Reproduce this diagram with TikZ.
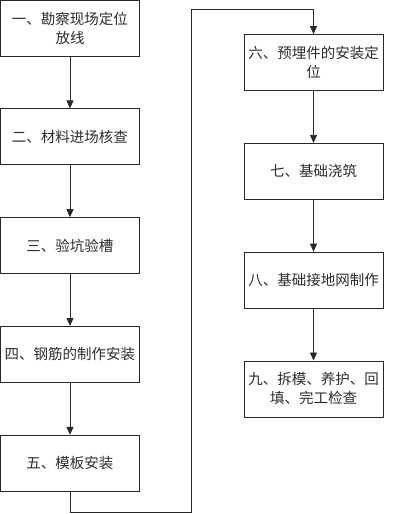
\documentclass[tikz,border=0pt]{standalone}
\usepackage{fontspec}
\usepackage{tikz}
\usetikzlibrary{arrows.meta,positioning}
\newfontfamily\cjk{Noto Sans CJK SC}
\definecolor{linegray}{RGB}{40, 40, 40}
\definecolor{textgray}{RGB}{45, 45, 45}

\begin{document}
\begin{tikzpicture}[
    x=1pt, y=-1pt,
    >={Triangle[length=8pt,width=7pt]},
    node distance=52pt,
    stepbox/.style={draw=linegray, line width=0.8pt, fill=white, align=center, text=textgray,
        font=\cjk\fontsize{14.5pt}{19pt}\selectfont, minimum height=56pt, minimum width=139pt,
        inner sep=2pt, text width=133pt},
    arrow/.style={->, line width=0.8pt, linegray}
]
    \useasboundingbox (0,0) rectangle (414,514);

    % Left column
    \node[stepbox] (kancha) at (70,28) {一、勘察现场定位\\放线};
    \node[stepbox, below=of kancha] (cailiao) {二、材料进场核查};
    \node[stepbox, below=of cailiao] (yankeng) {三、验坑验槽};
    \node[stepbox, below=of yankeng] (gangjin) {四、钢筋的制作安装};
    \node[stepbox, below=of gangjin] (muban) {五、模板安装};

    % Right column
    \node[stepbox] (maijian) at (313.5,62.5) {六、预埋件的安装定\\位};
    \node[stepbox, below=of maijian] (jiaozhu) {七、基础浇筑};
    \node[stepbox, below=of jiaozhu] (jiedi) {八、基础接地网制作};
    \node[stepbox, below=of jiedi] (chaimo) {九、拆模、养护、回\\填、完工检查};

    % Direct Path
    \draw[arrow] (kancha) -- (cailiao);
    \draw[arrow] (cailiao) -- (yankeng);
    \draw[arrow] (yankeng) -- (gangjin);
    \draw[arrow] (gangjin) -- (muban);
    \draw[arrow] (maijian) -- (jiaozhu);
    \draw[arrow] (jiaozhu) -- (jiedi);
    \draw[arrow] (jiedi) -- (chaimo);

    % Return path between columns
    \coordinate (turnlow) at (191,512);
    \coordinate (turnhigh) at (191,9);
    \draw[arrow] (muban.south) |- (turnlow) -- (turnhigh) -| (maijian.north);

\end{tikzpicture}
\end{document}
